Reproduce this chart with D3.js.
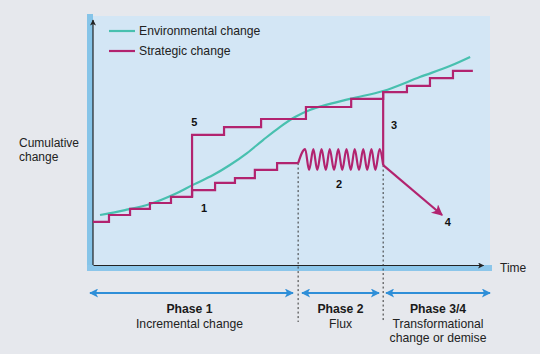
<!DOCTYPE html>
<html><head><meta charset="utf-8">
<script src="https://cdn.jsdelivr.net/npm/d3@7/dist/d3.min.js"></script>
<style>
html,body{margin:0;padding:0;background:#e6e8ed;}
svg{display:block;font-family:"Liberation Sans",Arial,Helvetica,sans-serif;}
</style></head><body>
<svg id="c" width="540" height="354"></svg>
<script>
// ---- data (time 0..100, cumulative change 0..100) ----
const seriesNames = ["Environmental change", "Strategic change"];
const envT = [1.8, 8.2, 14.6, 21.0, 25.6, 30.8, 35.1, 39.5, 43.6, 47.9, 51.8, 55.6, 65.9, 74.4, 83.8, 91.5, 96.7];
const envV = [20.4, 22.4, 24.9, 29.0, 32.7, 36.7, 40.8, 45.7, 51.0, 56.3, 60.4, 63.3, 67.8, 71.0, 76.7, 81.2, 84.9];
// incremental steps (phase 1)
const incT = [0, 4.1, 9.5, 14.6, 20.0, 25.4, 31.3, 36.4, 41.5, 47.2, 52.6];
const incV = [17.6, 20.4, 22.9, 25.3, 27.8, 30.6, 33.5, 35.5, 38.8, 41.6, 41.6];
// upper path (5 then 3)
const upT = [25.4, 25.4, 33.6, 43.1, 54.6, 66.2, 74.4, 80.5, 86.4, 92.3, 97.4];
const upV = [27.8, 53.1, 56.3, 59.6, 64.5, 67.8, 70.6, 73.1, 76.3, 79.2, 79.2];
// flux (phase 2)
const fluxT = [52.6, 54.4, 55.4, 56.5, 57.5, 58.6, 59.7, 60.7, 61.8, 62.9, 63.9, 65.0, 66.1, 67.1, 68.2, 69.3, 70.3, 71.4, 72.4, 73.5, 74.4];
const fluxV = [41.6, 47.3, 38.8, 47.3, 38.8, 47.3, 38.8, 47.3, 38.8, 47.3, 38.8, 47.3, 38.8, 47.3, 38.8, 47.3, 38.8, 47.3, 38.8, 47.3, 40.8];
// transformational jump (3) and demise (4)
const jumpT = [74.4, 74.4];
const jumpV = [40.8, 70.6];
const demiseT = [74.4, 89.5];
const demiseV = [40.8, 20.4];
// phase boundaries
const phaseBounds = [0, 52.6, 74.4, 101];
const phaseTitles = ["Phase 1", "Phase 2", "Phase 3/4"];
const phaseSubs = [["Incremental change"], ["Flux"], ["Transformational", "change or demise"]];
const numLabels = [
  {t: 26.0, v: 58.4, s: "5"}, {t: 28.5, v: 23.3, s: "1"}, {t: 63.1, v: 33.1, s: "2"},
  {t: 77.2, v: 57.1, s: "3"}, {t: 91.0, v: 17.6, s: "4"}
];

const ENV = "#48c0af", STRAT = "#b2236f", BLUE = "#2f8fd8";
const svg = d3.select("#c");
const x = d3.scaleLinear().domain([0, 100]).range([93, 483]);
const y = d3.scaleLinear().domain([0, 100]).range([265, 20]);

const defs = svg.append("defs");
function marker(id, color, w, h) {
  defs.append("marker").attr("id", id).attr("viewBox", "0 0 10 10")
    .attr("refX", 9).attr("refY", 5).attr("markerWidth", w).attr("markerHeight", h)
    .attr("markerUnits", "userSpaceOnUse").attr("orient", "auto-start-reverse")
    .append("path").attr("d", "M0,0L10,5L0,10L2.5,5Z").attr("fill", color);
}
marker("ab", "#222", 8, 6);
marker("am", STRAT, 14, 11);
marker("abl", BLUE, 12, 9);

// panel
svg.append("rect").attr("x", 92).attr("y", 16).attr("width", 398).attr("height", 250).attr("fill", "#d3e6f5");
svg.append("rect").attr("x", 87).attr("y", 14).attr("width", 6).attr("height", 257).attr("fill", "#86c4e8");
svg.append("rect").attr("x", 87).attr("y", 265).attr("width", 405).attr("height", 6).attr("fill", "#8cc6ea");

// axes (no ticks)
const gx = svg.append("g").attr("transform", `translate(0,${y(0)})`)
  .call(d3.axisBottom(x).tickValues([]).tickSizeOuter(0));
gx.select(".domain").attr("stroke", "#222").attr("stroke-width", 1.2).attr("marker-end", "url(#ab)");
const gy = svg.append("g").attr("transform", `translate(${x(0)},0)`)
  .call(d3.axisLeft(y).tickValues([]).tickSizeOuter(0));
gy.select(".domain").attr("d", `M0,${y(0)}V${y(100)}`).attr("stroke", "#222").attr("stroke-width", 1.2).attr("marker-end", "url(#ab)");

// dashed phase boundaries
[phaseBounds[1], phaseBounds[2]].forEach((t, i) => {
  svg.append("line").attr("x1", x(t)).attr("x2", x(t))
    .attr("y1", y(i === 0 ? fluxV[0] : fluxV[fluxV.length - 1])).attr("y2", 322)
    .attr("stroke", "#333").attr("stroke-width", 1).attr("stroke-dasharray", "2,2.5");
});

const zip = (a, b) => a.map((d, i) => [d, b[i]]);
const lineStep = d3.line().x(d => x(d[0])).y(d => y(d[1])).curve(d3.curveStepAfter);
const lineStr = d3.line().x(d => x(d[0])).y(d => y(d[1]));
const lineSmooth = d3.line().x(d => x(d[0])).y(d => y(d[1])).curve(d3.curveMonotoneX);
const lineEnv = d3.line().x(d => x(d[0])).y(d => y(d[1])).curve(d3.curveCatmullRom);

svg.append("path").attr("d", lineEnv(zip(envT, envV))).attr("fill", "none").attr("stroke", ENV).attr("stroke-width", 2.2);

const sAttr = p => p.attr("fill", "none").attr("stroke", STRAT).attr("stroke-width", 2.2).attr("stroke-linejoin", "miter");
sAttr(svg.append("path").attr("d", lineStep(zip(incT, incV))));
sAttr(svg.append("path").attr("d", lineStep(zip(upT, upV))));
sAttr(svg.append("path").attr("d", lineSmooth(zip(fluxT, fluxV))));
sAttr(svg.append("path").attr("d", lineStr(zip(jumpT, jumpV))));
sAttr(svg.append("path").attr("d", lineStr(zip(demiseT, demiseV))).attr("marker-end", "url(#am)"));

// number labels
svg.selectAll(".num").data(numLabels).join("text")
  .attr("x", d => x(d.t)).attr("y", d => y(d.v)).attr("text-anchor", "middle")
  .attr("dominant-baseline", "central").attr("font-size", 11).attr("font-weight", "bold")
  .attr("fill", "#111").text(d => d.s);

// legend
const leg = svg.append("g");
[ENV, STRAT].forEach((c, i) => {
  const ly = 31 + i * 20;
  leg.append("line").attr("x1", 109).attr("x2", 135).attr("y1", ly).attr("y2", ly).attr("stroke", c).attr("stroke-width", 2.2);
  leg.append("text").attr("x", 139).attr("y", ly).attr("dominant-baseline", "central")
    .attr("font-size", 12.2).attr("fill", "#222").text(seriesNames[i]);
});

// axis titles
svg.append("text").attr("x", 19).attr("y", 143).attr("dominant-baseline", "central").attr("font-size", 12).attr("fill", "#222").text("Cumulative");
svg.append("text").attr("x", 19).attr("y", 157).attr("dominant-baseline", "central").attr("font-size", 12).attr("fill", "#222").text("change");
svg.append("text").attr("x", 500).attr("y", 268).attr("dominant-baseline", "central").attr("font-size", 12).attr("fill", "#222").text("Time");

// phase arrows and labels
const arrowPix = [[90, 293], [302, 379], [386, 490]];
phaseTitles.forEach((t, i) => {
  const [a, b] = arrowPix[i];
  svg.append("line").attr("x1", a).attr("x2", b).attr("y1", 293).attr("y2", 293)
    .attr("stroke", BLUE).attr("stroke-width", 2)
    .attr("marker-start", "url(#abl)").attr("marker-end", "url(#abl)");
  const cx = (a + b) / 2 + (i === 0 ? -2 : 0);
  svg.append("text").attr("x", cx).attr("y", 313).attr("text-anchor", "middle")
    .attr("font-size", 12.2).attr("font-weight", "bold").attr("fill", "#1a1a1a").text(t);
  phaseSubs[i].forEach((s, j) => {
    svg.append("text").attr("x", cx).attr("y", 328 + j * 14).attr("text-anchor", "middle")
      .attr("font-size", 12.2).attr("fill", "#222").text(s);
  });
});
</script>
</body></html>
